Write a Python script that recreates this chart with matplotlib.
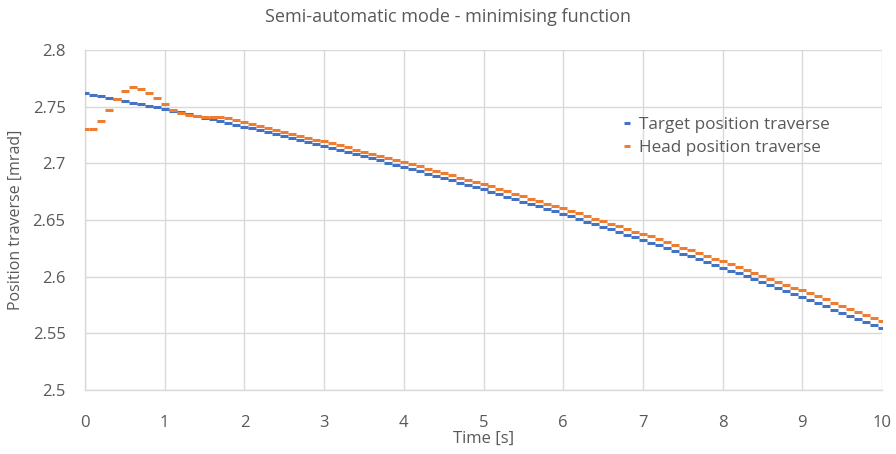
import matplotlib
matplotlib.use("Agg")
import matplotlib.pyplot as plt
import numpy as np

plt.rcParams['font.family'] = ['Open Sans', 'DejaVu Sans']

title = "Semi-automatic mode - minimising function"
x_label = "Time [s]"
y_label = "Position traverse [mrad]"
series_names = ["Target position traverse", "Head position traverse"]

time_s = [round(i * 0.1, 1) for i in range(101)]

target = [
    2.7620, 2.7606, 2.7592, 2.7578, 2.7564, 2.7550, 2.7536, 2.7522, 2.7508, 2.7494,
    2.7480, 2.7465, 2.7449, 2.7434, 2.7418, 2.7403, 2.7387, 2.7372, 2.7356, 2.7341,
    2.7325, 2.7308, 2.7291, 2.7274, 2.7257, 2.7240, 2.7223, 2.7206, 2.7189, 2.7172,
    2.7155, 2.7137, 2.7118, 2.7100, 2.7081, 2.7063, 2.7044, 2.7026, 2.7007, 2.6989,
    2.6970, 2.6950, 2.6930, 2.6910, 2.6890, 2.6870, 2.6850, 2.6830, 2.6810, 2.6790,
    2.6770, 2.6749, 2.6727, 2.6706, 2.6684, 2.6663, 2.6641, 2.6620, 2.6598, 2.6577,
    2.6555, 2.6532, 2.6509, 2.6486, 2.6463, 2.6440, 2.6417, 2.6394, 2.6371, 2.6348,
    2.6325, 2.6301, 2.6276, 2.6252, 2.6227, 2.6203, 2.6178, 2.6154, 2.6129, 2.6105,
    2.6080, 2.6054, 2.6028, 2.6002, 2.5976, 2.5950, 2.5924, 2.5898, 2.5872, 2.5846,
    2.5820, 2.5793, 2.5765, 2.5738, 2.5710, 2.5683, 2.5655, 2.5628, 2.5600, 2.5573,
    2.5545,
]

head = [
    2.7303, 2.7303, 2.7371, 2.7470, 2.7565, 2.7635, 2.7670, 2.7659, 2.7624, 2.7574,
    2.7524, 2.7475, 2.7445, 2.7430, 2.7418, 2.7410, 2.7408, 2.7405, 2.7398, 2.7382,
    2.7362, 2.7345, 2.7328, 2.7311, 2.7294, 2.7277, 2.7260, 2.7243, 2.7226, 2.7209,
    2.7195, 2.7177, 2.7158, 2.7140, 2.7121, 2.7103, 2.7084, 2.7066, 2.7047, 2.7029,
    2.7013, 2.6994, 2.6974, 2.6954, 2.6934, 2.6914, 2.6894, 2.6874, 2.6854, 2.6834,
    2.6815, 2.6796, 2.6774, 2.6753, 2.6731, 2.6710, 2.6688, 2.6667, 2.6645, 2.6624,
    2.6603, 2.6582, 2.6559, 2.6536, 2.6513, 2.6490, 2.6467, 2.6444, 2.6421, 2.6398,
    2.6377, 2.6355, 2.6330, 2.6306, 2.6281, 2.6257, 2.6232, 2.6208, 2.6183, 2.6159,
    2.6135, 2.6111, 2.6085, 2.6059, 2.6033, 2.6007, 2.5981, 2.5955, 2.5929, 2.5903,
    2.5880, 2.5855, 2.5827, 2.5800, 2.5772, 2.5745, 2.5717, 2.5690, 2.5662, 2.5635,
    2.5607,
]

x_ticks = [0, 1, 2, 3, 4, 5, 6, 7, 8, 9, 10]
y_ticks = [2.5, 2.55, 2.6, 2.65, 2.7, 2.75, 2.8]
y_tick_labels = ["2.5", "2.55", "2.6", "2.65", "2.7", "2.75", "2.8"]

text_color = "#595959"
grid_color = "#d9d9d9"
blue = "#4472C4"
orange = "#ED7D31"

fig = plt.figure(figsize=(8.96, 4.54), dpi=100)
ax = fig.add_axes([85 / 896, 1 - 390 / 454, (882 - 85) / 896, (390 - 50) / 454])

ms = 5.8
mew = 2.2
ax.plot(time_s, target, linestyle="none", marker="_", markersize=ms,
        markeredgewidth=mew, color=blue, label=series_names[0], zorder=3)
ax.plot(time_s, head, linestyle="none", marker="_", markersize=ms,
        markeredgewidth=mew, color=orange, label=series_names[1], zorder=4)

ax.set_xlim(0, 10)
ax.set_ylim(2.5, 2.8)
ax.set_xticks(x_ticks)
ax.set_yticks(y_ticks)
ax.set_yticklabels(y_tick_labels)
ax.grid(True, color=grid_color, linewidth=1)
ax.set_axisbelow(True)
for s in ["top", "right"]:
    ax.spines[s].set_visible(False)
for s in ["left", "bottom"]:
    ax.spines[s].set_color(grid_color)
    ax.spines[s].set_linewidth(1)
ax.tick_params(axis="x", length=0, colors=text_color, labelsize=12, pad=18)
ax.tick_params(axis="y", length=0, colors=text_color, labelsize=12, pad=14)

fig.text(0.5, 1 - 17 / 454, title, color=text_color, fontsize=13,
         ha="center", va="center")
ax.set_xlabel(x_label, color=text_color, fontsize=12, labelpad=0)
ax.set_ylabel(y_label, color=text_color, fontsize=11.5, labelpad=6)

leg = ax.legend(loc="center left", bbox_to_anchor=(0.655, 0.745), frameon=False,
                fontsize=12.3, handlelength=0.5, handletextpad=0.45,
                labelspacing=0.42, labelcolor=text_color)
for h in leg.legend_handles:
    h.set_markersize(5)

fig.savefig("out.png", dpi=100)
